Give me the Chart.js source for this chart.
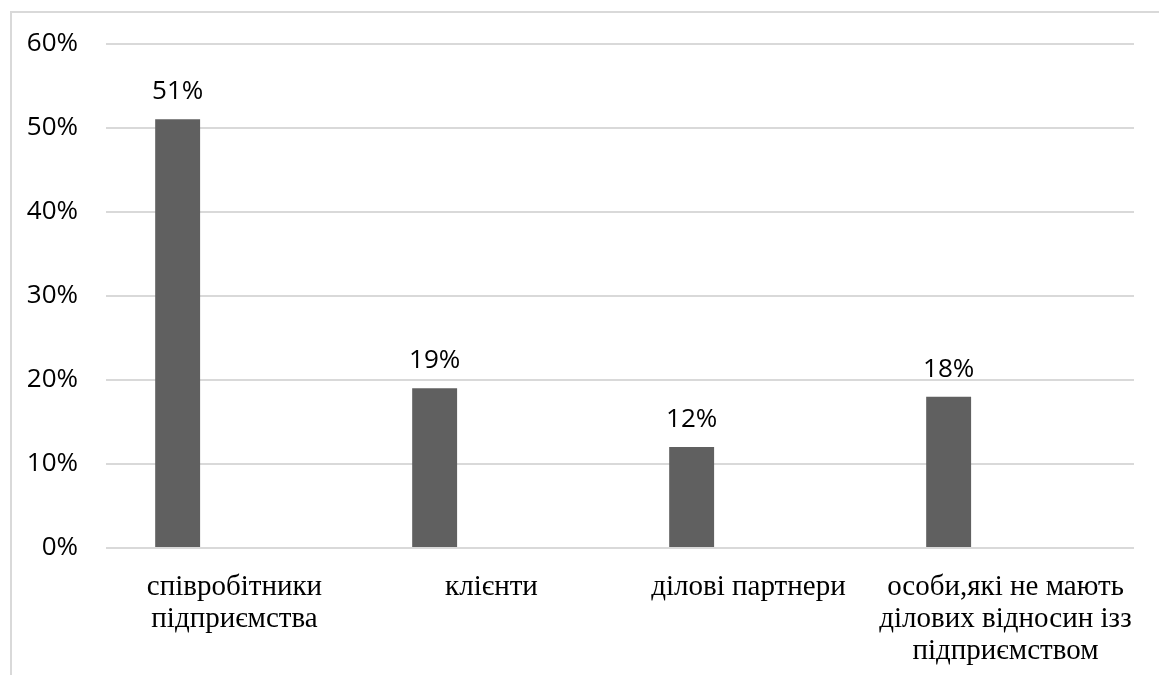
<!DOCTYPE html>
<html>
<head>
<meta charset="utf-8">
<script src="https://cdn.jsdelivr.net/npm/chart.js@4/dist/chart.umd.min.js"></script>
<style>
  html, body { margin: 0; padding: 0; background: #fff; }
  #chart { position: absolute; left: 12px; top: 0; display: block; }
  #frame {
    position: absolute; left: 10px; top: 11px;
    width: 1147px; height: 662px;
    border-top: 2px solid #d9d9d9; border-left: 2px solid #d9d9d9;
    pointer-events: none;
  }
</style>
</head>
<body>
<canvas id="chart" width="1147" height="675"></canvas>
<div id="frame"></div>
<script>
// категорії та значення (у відсотках)
const categories = [
    ['співробітники', 'підприємства'],
    'клієнти',
    'ділові партнери',
    ['особи,які не мають', 'ділових відносин ізз', 'підприємством']
];
const shares = [51, 19, 12, 18];
const emptySeries = [null, null, null, null];
const yTicks = [0, 10, 20, 30, 40, 50, 60];

const valueLabels = {
    id: 'valueLabels',
    afterDatasetsDraw(chart) {
        const ctx = chart.ctx;
        const meta = chart.getDatasetMeta(0);
        ctx.save();
        ctx.font = '26px "Open Sans"';
        ctx.fillStyle = '#000';
        ctx.textAlign = 'center';
        ctx.textBaseline = 'alphabetic';
        meta.data.forEach((bar, i) => {
            ctx.fillText(shares[i] + '%', bar.x, bar.y - 20);
        });
        ctx.restore();
    }
};

new Chart(document.getElementById('chart'), {
    type: 'bar',
    data: {
        labels: categories,
        datasets: [
            { data: shares, backgroundColor: '#606060', borderWidth: 0 },
            { data: emptySeries, backgroundColor: '#606060', borderWidth: 0 }
        ]
    },
    options: {
        responsive: false,
        devicePixelRatio: 1,
        animation: false,
        categoryPercentage: 0.885,
        barPercentage: 0.395,
        layout: { padding: { top: 20, right: 25, left: 0, bottom: 0 } },
        plugins: { legend: { display: false }, tooltip: { enabled: false } },
        scales: {
            x: {
                grid: { display: false },
                border: { display: false },
                ticks: {
                    color: '#000',
                    font: { family: '"Liberation Serif"', size: 29, lineHeight: 1.11 },
                    padding: 15,
                    maxRotation: 0,
                    autoSkip: false
                },
                afterFit: s => { s.height = 127; }
            },
            y: {
                min: 0,
                max: 60,
                afterBuildTicks: s => { s.ticks = yTicks.map(v => ({ value: v })); },
                grid: { color: '#d9d9d9', lineWidth: 2, drawTicks: false },
                border: { display: false },
                ticks: {
                    color: '#000',
                    font: { family: '"Open Sans"', size: 26 },
                    padding: 28,
                    callback: v => v + '%'
                },
                afterFit: s => { s.width = 94; }
            }
        }
    },
    plugins: [valueLabels]
});
</script>
</body>
</html>
